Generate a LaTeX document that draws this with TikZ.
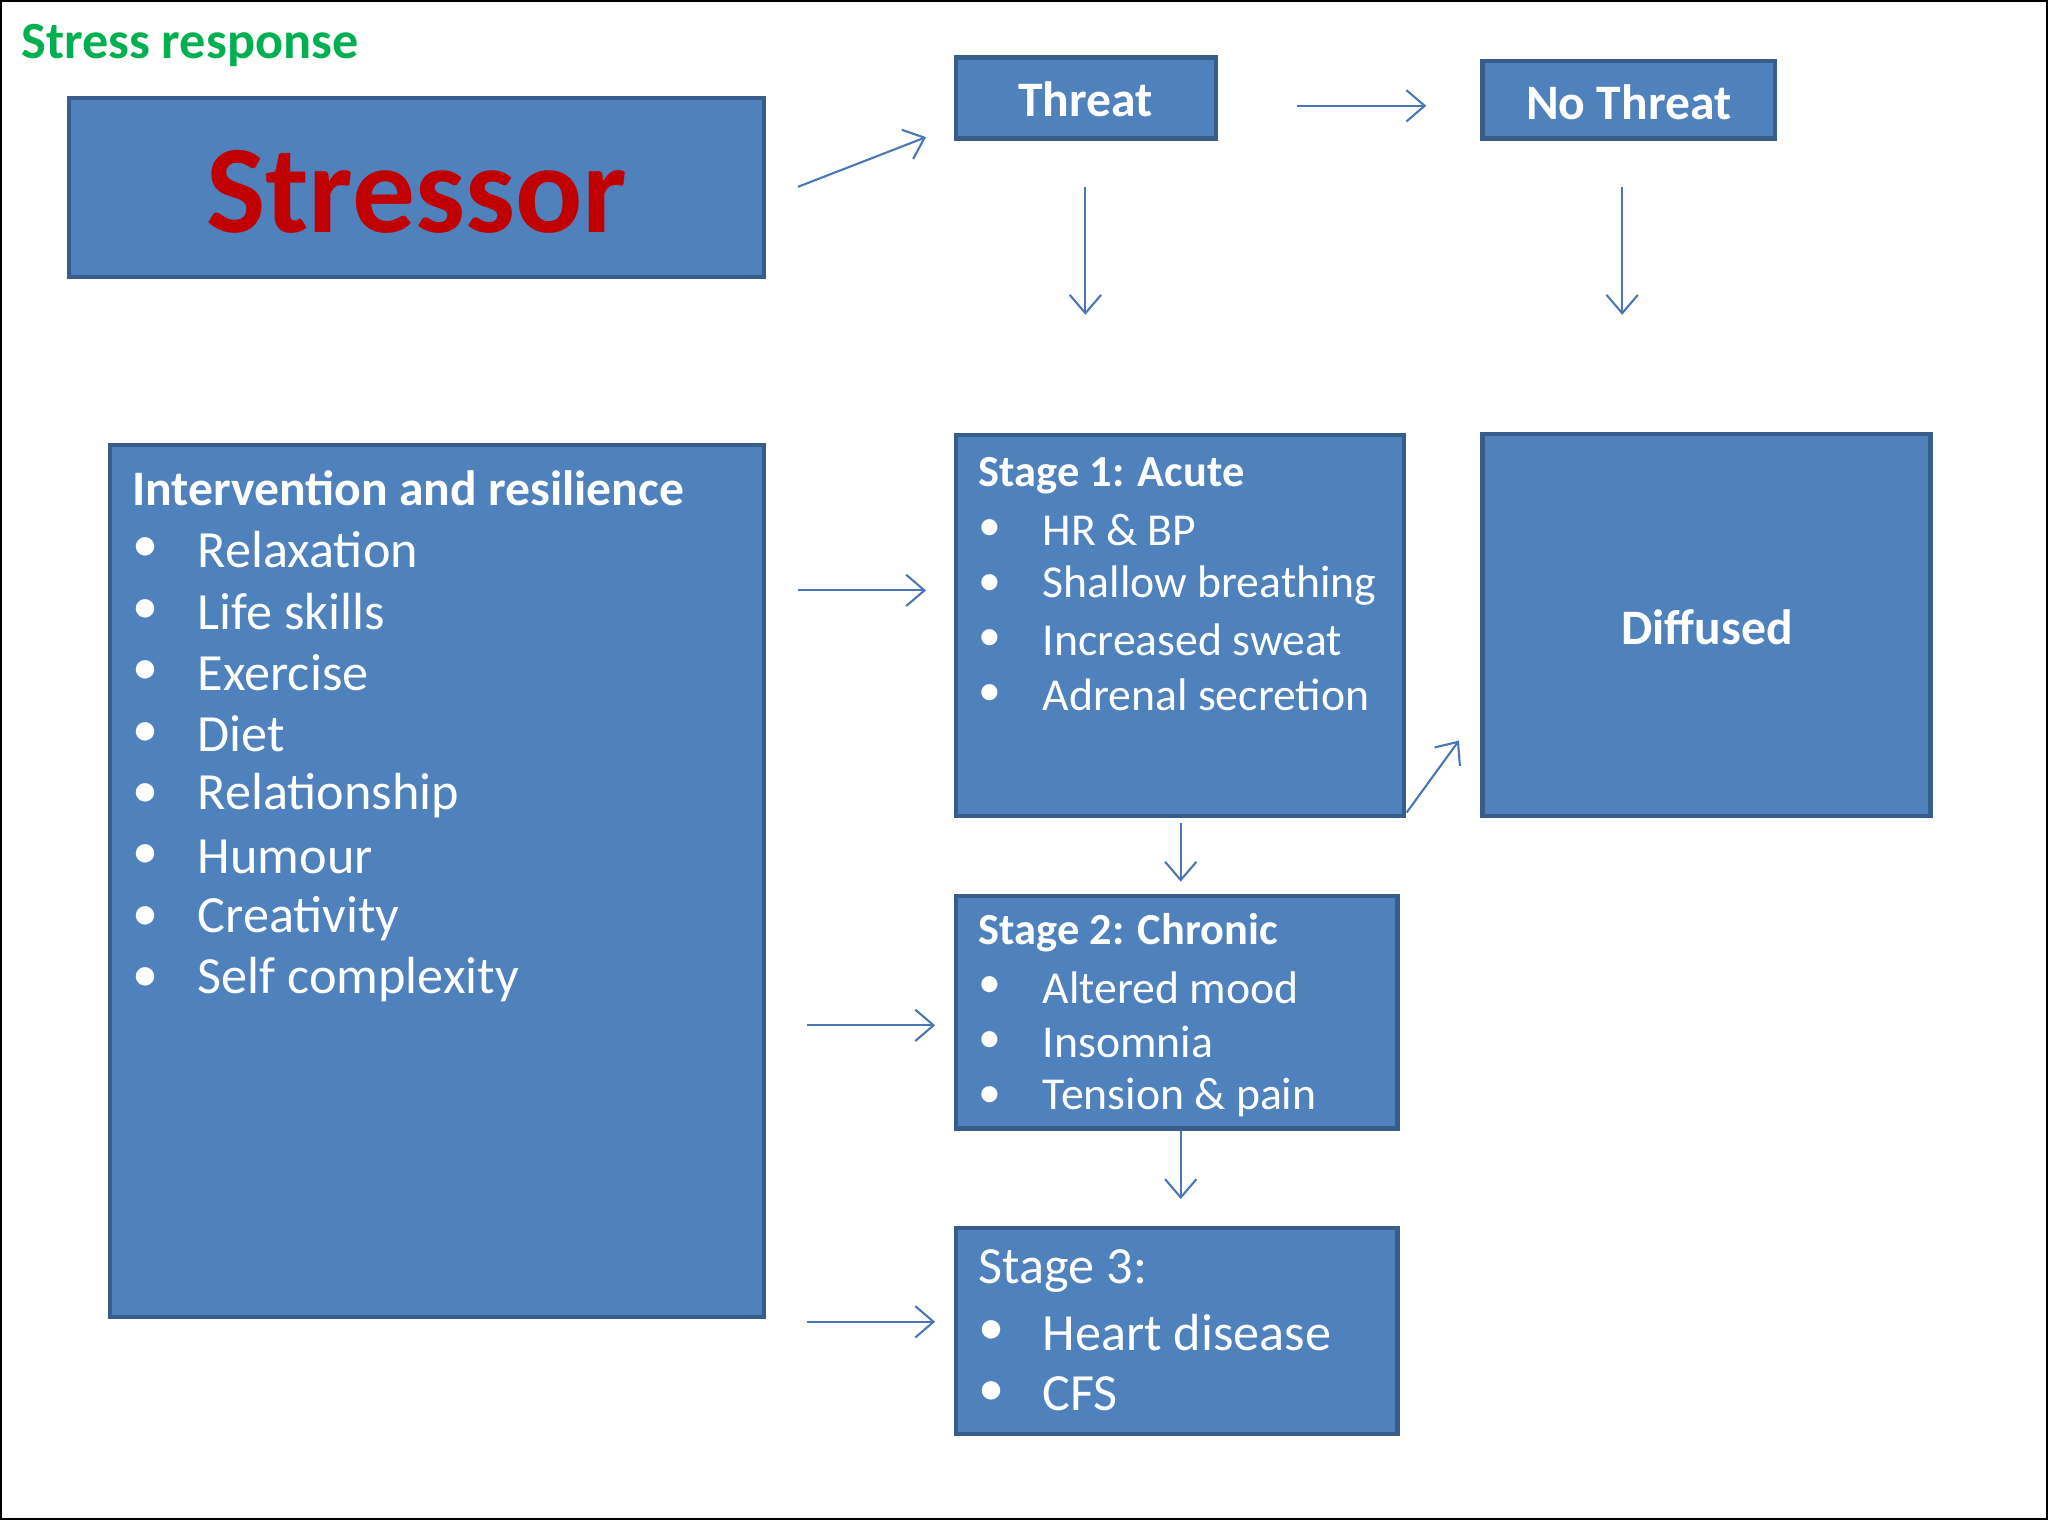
\documentclass[tikz,border=0pt]{standalone}
\usepackage{fontspec}
\setmainfont{Carlito}
\usetikzlibrary{arrows.meta}
\definecolor{boxfill}{HTML}{4F81BD}
\definecolor{boxline}{HTML}{385D8A}
\definecolor{arr}{HTML}{4A76B5}
\definecolor{grn}{HTML}{00B050}
\definecolor{stred}{HTML}{C00000}
\begin{document}
\begin{tikzpicture}[x=0.5pt,y=-0.5pt,
  box/.style={draw=boxline,line width=1.6pt,fill=boxfill},
  ar/.style={draw=arr,line width=0.8pt,-{Straight Barb[length=7pt,width=12pt]}},
  tl/.style={anchor=west,text=white,inner sep=0pt,font=\bfseries\fontsize{17}{20}\selectfont},
  it/.style={anchor=west,text=white,inner sep=0pt,font=\fontsize{17.5}{21}\selectfont},
  bi/.style={anchor=west,text=white,inner sep=0pt,font=\fontsize{20}{24}\selectfont}]
\useasboundingbox (0,0) rectangle (1568,1164);
\draw[line width=0.8pt] (0.5,0.5) rectangle (1567,1163);
\node[anchor=west,inner sep=0pt,text=grn,font=\bfseries\fontsize{20}{24}\selectfont] (title) at (16,35) {Stress response};
% boxes
\draw[box] (53,75) rectangle (585,212);
\node[text=stred,font=\bfseries\fontsize{48}{56}\selectfont] (stressor) at (319,147) {Stressor};
\draw[box] (732,44) rectangle (931,106);
\node[text=white,font=\bfseries\fontsize{19}{22}\selectfont] (threat) at (831,76) {Threat};
\draw[box] (1135,47) rectangle (1359,106);
\node[text=white,font=\bfseries\fontsize{19}{22}\selectfont] (nothreat) at (1247,78) {No Threat};
\draw[box] (84,341) rectangle (585,1008);
\draw[box] (732,333) rectangle (1075,625);
\draw[box] (1135,332) rectangle (1478,625);
\node[text=white,font=\bfseries\fontsize{19}{22}\selectfont] (diffused) at (1307,480) {Diffused};
\draw[box] (732,686) rectangle (1070,864);
\draw[box] (732,940) rectangle (1070,1098);
% intervention
\node[tl,font=\bfseries\fontsize{19}{22}\selectfont] (int) at (101,374) {Intervention and resilience};
\foreach \t [count=\i] in {Relaxation,Life skills,Exercise,Diet,Relationship,Humour,Creativity,Self complexity}{
  \node[bi] (ib\i) at (101,374+47*\i) {•};
  \node[bi] (it\i) at (151,374+47*\i) {\t};
}
% stage1
\node[tl] (s1) at (749,364) {Stage 1: Acute};
\foreach \t [count=\i] in {HR \& BP,Shallow breathing,Increased sweat,Adrenal secretion}{
  \node[it] (s1b\i) at (749,364+42*\i) {•};
  \node[it] (s1t\i) at (798,364+42*\i) {\t};
}
% stage2
\node[tl] (s2) at (749,714) {Stage 2: Chronic};
\foreach \t [count=\i] in {Altered mood,Insomnia,Tension \& pain}{
  \node[it] (s2b\i) at (749,714+42*\i) {•};
  \node[it] (s2t\i) at (798,714+42*\i) {\t};
}
% stage3
\node[bi] (s3) at (749,973) {Stage 3:};
\foreach \t [count=\i] in {Heart disease,CFS}{
  \node[bi] (s3b\i) at (749,973+47*\i) {•};
  \node[bi] (s3t\i) at (798,973+47*\i) {\t};
}
% arrows
\coordinate (a1) at (611,143); \coordinate (b1) at (709,105);
\coordinate (a2) at (993,81); \coordinate (b2) at (1092,81);
\coordinate (a3) at (831,143); \coordinate (b3) at (831,241);
\coordinate (a4) at (1242,143); \coordinate (b4) at (1242,241);
\coordinate (a5) at (611,452); \coordinate (b5) at (709,452);
\coordinate (a6) at (618,785); \coordinate (b6) at (716,785);
\coordinate (a7) at (618,1012); \coordinate (b7) at (716,1012);
\coordinate (a8) at (904,630); \coordinate (b8) at (904,675);
\coordinate (a9) at (904,866); \coordinate (b9) at (904,918);
\coordinate (a10) at (1077,622); \coordinate (b10) at (1117,567);
\foreach \i in {1,...,10}{\draw[ar] (a\i) -- (b\i);}
\end{tikzpicture}
\end{document}
